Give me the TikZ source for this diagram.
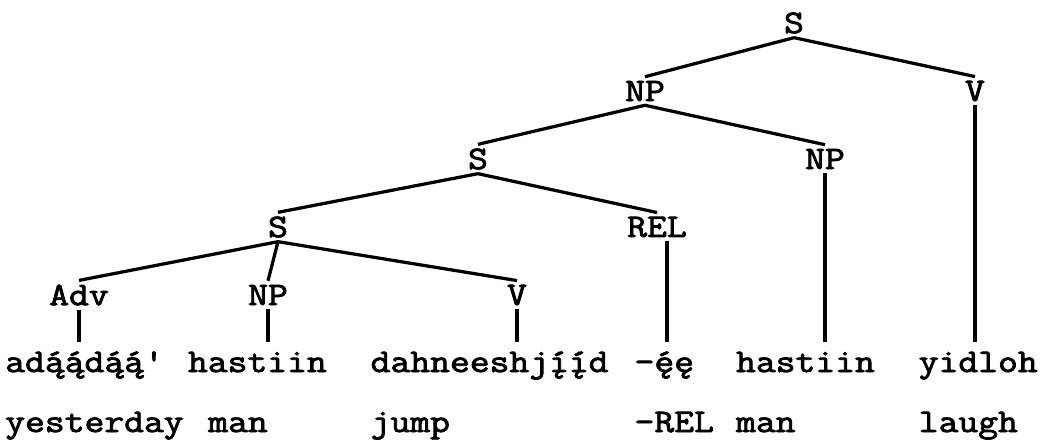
\documentclass[tikz,border=0pt]{standalone}
\usepackage{fontspec}
\setmonofont[FakeStretch=1.17,FakeBold=2.5]{Latin Modern Mono}
\usepackage{tikz}

\tikzset{
  cat/.style={font=\ttfamily\fontsize{23.4}{28}\selectfont, inner sep=3pt, outer sep=0pt},
  word/.style={font=\ttfamily\fontsize{23.4}{28}\selectfont, anchor=base west,
    inner xsep=0pt, inner ysep=3pt, text height=18pt, text depth=6pt},
  branch/.style={line width=2.3pt}
}

\begin{document}
\begin{tikzpicture}[x=0.25mm,y=0.25mm]
\useasboundingbox (0,0) rectangle (1050,446);
% categories
\node[cat] (s0) at (794,423) {S};
\node[cat] (np1) at (645,355) {NP};
\node[cat] (v1) at (975,355) {V};
\node[cat] (s1) at (478,287) {S};
\node[cat] (np2) at (825,287) {NP};
\node[cat] (s2) at (278,219) {S};
\node[cat] (rel) at (657,219) {REL};
\node[cat] (adv) at (79,151) {Adv};
\node[cat] (np3) at (268,151) {NP};
\node[cat] (v3) at (517,151) {V};
% navajo words
\node[word] (w1) at (5,74) {adą́ą́dą́ą́'};
\node[word] (w2) at (187.7,74) {hastiin};
\node[word] (w3) at (370.4,74) {dahneeshjį́į́d};
\node[word] (w4) at (634.3,74) {-ę́ę};
\node[word] (w5) at (735.8,74) {hastiin};
\node[word] (w6) at (918.5,74) {yidloh};
% glosses
\node[word] (g1) at (5,14) {yesterday};
\node[word] (g2) at (208,14) {man};
\node[word] (g3) at (370.4,14) {jump};
\node[word] (g4) at (634.3,14) {-REL};
\node[word] (g5) at (735.8,14) {man};
\node[word] (g6) at (918.5,14) {laugh};
% branches
\draw[branch] (s0.south) -- (np1.north);
\draw[branch] (s0.south) -- (v1.north);
\draw[branch] (np1.south) -- (s1.north);
\draw[branch] (np1.south) -- (np2.north);
\draw[branch] (s1.south) -- (s2.north);
\draw[branch] (s1.south) -- (rel.north);
\draw[branch] (s2.south) -- (adv.north);
\draw[branch] (s2.south) -- (np3.north);
\draw[branch] (s2.south) -- (v3.north);
\draw[branch] (adv.south) -- (adv.south |- w1.north);
\draw[branch] (np3.south) -- (np3.south |- w2.north);
\draw[branch] (v3.south) -- (v3.south |- w3.north);
\draw[branch] ([xshift=2.5mm]rel.south) -- ([xshift=2.5mm]rel.south |- w4.north);
\draw[branch] (np2.south) -- (np2.south |- w5.north);
\draw[branch] (v1.south) -- (v1.south |- w6.north);
\end{tikzpicture}
\end{document}
